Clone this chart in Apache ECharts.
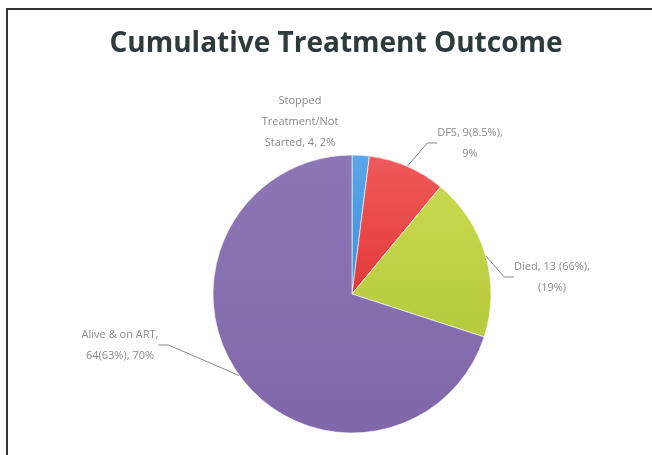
<!DOCTYPE html>
<html>
<head>
<meta charset="utf-8">
<script src="https://cdn.jsdelivr.net/npm/echarts@6/dist/echarts.min.js"></script>
<style>
    html, body { margin: 0; padding: 0; background: #fff; overflow: hidden; }
    #chart { width: 652px; height: 455px; }
</style>
</head>
<body>
<div id="chart"></div>
<script>
// outcome slices, clockwise from 12 o'clock
const categories = ['Stopped Treatment/Not Started', 'DFS', 'Died', 'Alive & on ART'];
const values = [2, 9, 19, 70];
const labelTexts = [
    'Stopped\nTreatment/Not\nStarted, 4, 2%',
    'DFS, 9(8.5%),\n9%',
    'Died, 13 (66%),\n(19%)',
    'Alive & on ART,\n64(63%), 70%'
];
const colors = ['#3b8fdc', '#e3393b', '#b7c93c', '#7f67a9'];
const lightColors = ['#5aa6e8', '#ef5a5a', '#c9d94f', '#8d76b6'];

const myChart = echarts.init(document.getElementById('chart'));

// label anchor spots, by slice
const labelSpots = [
    { x: 300, y: 122, align: 'center' },
    { x: 470, y: 143, align: 'center' },
    { x: 552, y: 277, align: 'center' },
    { x: 120, y: 345, align: 'center' }
];

const option = {
    backgroundColor: '#fff',
    title: {
        text: 'Cumulative Treatment Outcome',
        left: 331,
        top: 25,
        textAlign: 'center',
        textStyle: {
            fontFamily: 'Open Sans',
            fontSize: 28,
            fontWeight: 'bold',
            color: '#2f3a3c'
        }
    },
    graphic: [{
        type: 'polyline',
        shape: { points: [[7, 455], [7, 9], [652, 9]] },
        style: { stroke: '#333', lineWidth: 2, fill: null }
    }],
    series: [{
        type: 'pie',
        center: [352, 294],
        radius: 139,
        startAngle: 90,
        clockwise: true,
        avoidLabelOverlap: false,
        itemStyle: {
            borderColor: 'rgba(255,255,255,0.35)',
            borderWidth: 1
        },
        label: {
            show: true,
            color: '#8a8a8a',
            fontFamily: 'Open Sans',
            fontSize: 11,
            lineHeight: 21,
            formatter: p => labelTexts[p.dataIndex]
        },
        labelLine: {
            show: true,
            length: 12,
            length2: 10,
            lineStyle: { color: '#888', width: 1 }
        },
        labelLayout: p => {
            const s = labelSpots[p.dataIndex];
            return { x: s.x, y: s.y, align: s.align, verticalAlign: 'middle' };
        },
        data: categories.map((name, i) => ({
            name: name,
            value: values[i],
            itemStyle: {
                color: new echarts.graphic.LinearGradient(0, 0, 0, 1, [
                    { offset: 0, color: lightColors[i] },
                    { offset: 1, color: colors[i] }
                ])
            },
            labelLine: { show: i !== 0 }
        }))
    }]
};

myChart.setOption(option);
</script>
</body>
</html>
